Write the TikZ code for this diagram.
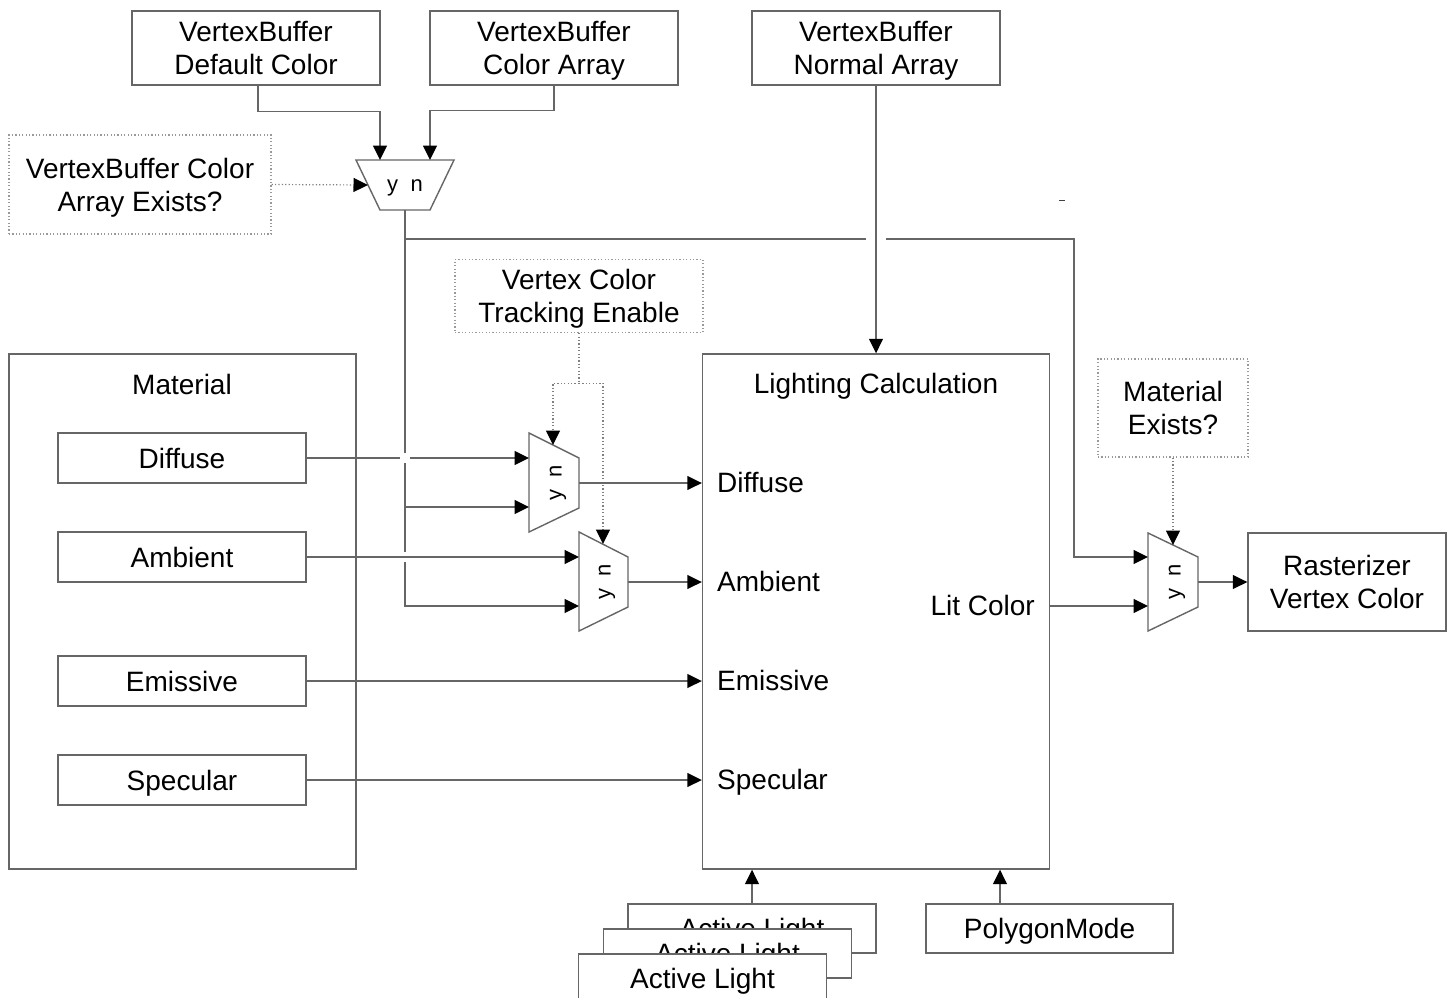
\documentclass[tikz,border=0pt]{standalone}
\usepackage{fontspec}
\setmainfont{Liberation Sans}
\usetikzlibrary{arrows.meta}
\newcommand\diagfont{\fontsize{28}{33}\selectfont}
\newcommand\muxfont{\fontsize{22}{26}\selectfont}
\begin{document}
\begin{tikzpicture}[x=1pt,y=-1pt,
  wire/.style={draw=black!60, line width=1.4pt},
  arr/.style={wire, -{Triangle[length=14.5pt,width=14pt,color=black]}},
  sig/.style={draw=black!50, line width=1.2pt, dash pattern=on 1.2pt off 2.2pt},
  sigarr/.style={sig, -{Triangle[length=14.5pt,width=14pt,color=black]}},
  box/.style={draw=black!60, fill=white, line width=1.4pt, inner sep=0pt, align=center, font=\diagfont, text height=20pt, text depth=0pt},
  twoline/.style={text height=53pt, text depth=0pt},
  dbox/.style={draw=black!40, line width=1.2pt, dash pattern=on 1.2pt off 2.2pt, inner sep=0pt, align=center, font=\diagfont, text height=53pt, text depth=0pt},
  mux/.style={draw=black!60, fill=white, line width=1.4pt, line join=miter},
  muxlbl/.style={inner sep=0pt, font=\muxfont, text height=11.4pt, text depth=0pt},
  lbl/.style={inner sep=0pt, font=\diagfont, text height=20pt, text depth=0pt}
]
\useasboundingbox (0,0) rectangle (1453,998);
\clip (0,0) rectangle (1453,998);
\fill[white] (0,0) rectangle (1453,998);

% sources along the top
\node[box, twoline, minimum width=248, minimum height=74] (vbdef) at (256,48) {VertexBuffer\\Default Color};
\node[box, twoline, minimum width=248, minimum height=74] (vbcol) at (554,48) {VertexBuffer\\Color Array};
\node[box, twoline, minimum width=248, minimum height=74] (vbnorm) at (876,48) {VertexBuffer\\Normal Array};

% selector conditions
\node[dbox, minimum width=262, minimum height=99] (vbexists) at (140,184.5) {VertexBuffer Color\\Array Exists?};
\node[dbox, minimum width=248, minimum height=73] (track) at (579,296) {Vertex Color\\Tracking Enable};
\node[dbox, minimum width=150, minimum height=98] (matex) at (1173,408) {Material\\Exists?};

% material block
\node[box, minimum width=347, minimum height=515] (mat) at (182.5,611.5) {};
\node[lbl] (matT) at (182,384) {Material};
\node[box, minimum width=248, minimum height=50] (mdif) at (182,458) {Diffuse};
\node[box, minimum width=248, minimum height=50] (mamb) at (182,557) {Ambient};
\node[box, minimum width=248, minimum height=50] (memi) at (182,681) {Emissive};
\node[box, minimum width=248, minimum height=50] (mspe) at (182,780) {Specular};

% lighting block
\node[box, minimum width=347, minimum height=515] (lc) at (876,611.5) {};
\node[lbl] (lcT) at (876,383) {Lighting Calculation};
\node[lbl, anchor=west] (lcDif) at (717,482) {Diffuse};
\node[lbl, anchor=west] (lcAmb) at (717,581) {Ambient};
\node[lbl, anchor=west] (lcEmi) at (717,680) {Emissive};
\node[lbl, anchor=west] (lcSpe) at (717,779) {Specular};
\node[lbl, anchor=east] (lcLit) at (1035,605) {Lit Color};

% output
\node[box, twoline, minimum width=198, minimum height=98] (rast) at (1347,582) {Rasterizer\\Vertex Color};

% light sources, stacked back to front
\node[box, minimum width=248, minimum height=49] (al1) at (752,928.5) {Active Light};
\node[box, minimum width=248, minimum height=49] (al2) at (727.5,953.5) {Active Light};
\node[box, minimum width=248, minimum height=49] (al3) at (702.5,978.5) {Active Light};
\node[box, minimum width=247, minimum height=49] (pm) at (1049.5,928.5) {PolygonMode};

% multiplexers
\draw[mux] (356,160) -- (454,160) -- (430,210) -- (380,210) -- cycle;
\node[muxlbl] (m0) at (405,186) {y\hspace{12.5pt}n};
\coordinate (m0a) at (380,160);
\coordinate (m0b) at (430,160);
\coordinate (m0s) at (368,185);
\coordinate (m0o) at (405,210);

\draw[mux] (529,433) -- (579,458) -- (579,508) -- (529,532) -- cycle;
\node[muxlbl, rotate=90] (m1) at (556,483) {y\hspace{12.5pt}n};
\coordinate (m1a) at (529,458);
\coordinate (m1b) at (529,507);
\coordinate (m1s) at (553,445);
\coordinate (m1o) at (579,483);

\draw[mux] (579,532) -- (628,557) -- (628,607) -- (579,631) -- cycle;
\node[muxlbl, rotate=90] (m2) at (605,582) {y\hspace{12.5pt}n};
\coordinate (m2a) at (579,557);
\coordinate (m2b) at (579,606);
\coordinate (m2s) at (603,544);
\coordinate (m2o) at (628,582);

\draw[mux] (1148,533) -- (1198,557) -- (1198,607) -- (1148,631) -- cycle;
\node[muxlbl, rotate=90] (m3) at (1175,582) {y\hspace{12.5pt}n};
\coordinate (m3a) at (1148,557);
\coordinate (m3b) at (1148,606);
\coordinate (m3s) at (1173,545);
\coordinate (m3o) at (1198,582);

% vertex buffer colour selection
\draw[arr] (vbdef.south) ++(2,0) -- ++(0,26) -| (m0a);
\draw[arr] (vbcol.south) -- ++(0,25) -| (m0b);
\draw[sigarr] (vbexists.east) -- (m0s);

% selected vertex colour fans out
\draw[arr] (m0o) -- (405,453) (405,463) -- (405,552) (405,562) |- (m2b);
\draw[arr] (405,507) -- (m1b);
\draw[arr] (405,239) -- (866,239) (886,239) -- (1074,239) |- (m3a);

% material inputs
\draw[arr] (mdif.east) -- (400,458) (410,458) -- (m1a);
\draw[arr] (mamb.east) -- (m2a);
\draw[arr] (memi.east) -- (lc.west |- memi.east);
\draw[arr] (mspe.east) -- (lc.west |- mspe.east);

% tracking selects
\draw[sig] (track.south) -- ++(0,50) coordinate (tsplit);
\draw[sigarr] (tsplit) -| (m1s);
\draw[sigarr] (tsplit) -| (m2s);

% into the lighting calculation
\draw[arr] (m1o) -- (lc.west |- m1o);
\draw[arr] (m2o) -- (lc.west |- m2o);
\draw[arr] (vbnorm.south) -- (lc.north);
\draw[arr] (al1.north) -- (al1.north |- lc.south);
\path (pm.north) ++(-49.5,0) coordinate (pmport);
\draw[arr] (pmport) -- (pmport |- lc.south);

% final selection
\draw[arr] (lc.east |- m3b) -- (m3b);
\draw[sigarr] (matex.south) -- (m3s);
\draw[arr] (m3o) -- (rast.west |- m3o);

% stray tick
\draw[wire, draw=black!75] (1059,200.5) -- (1065,200.5);
\end{tikzpicture}
\end{document}
